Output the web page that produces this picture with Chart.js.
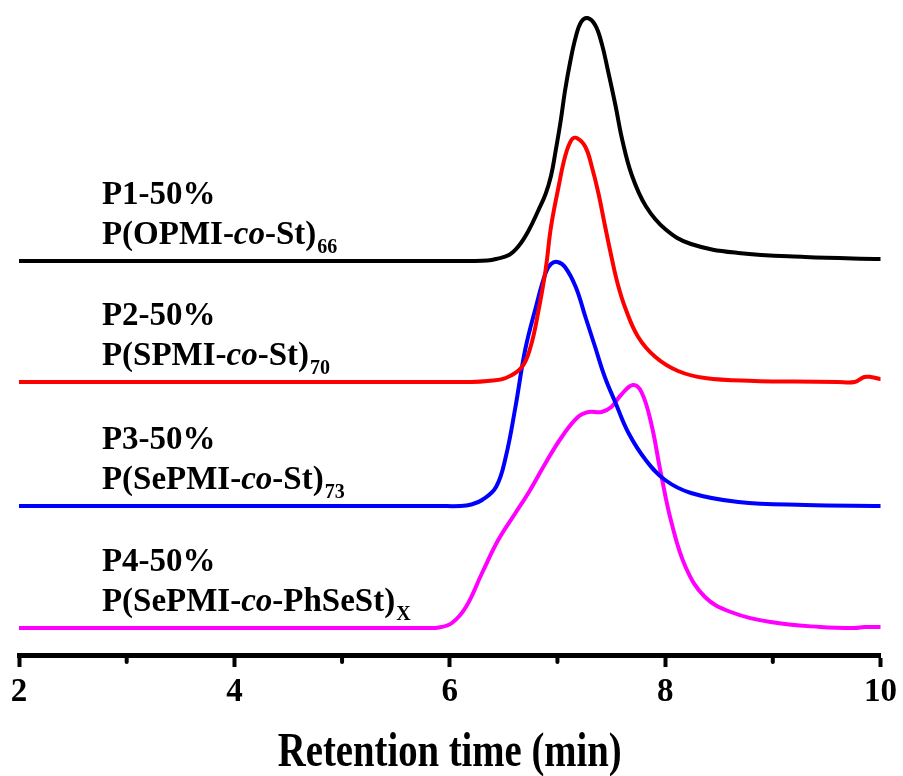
<!DOCTYPE html>
<html>
<head>
<meta charset="utf-8">
<script src="https://cdn.jsdelivr.net/npm/chart.js@4/dist/chart.umd.min.js"></script>
<style>
  html, body { margin: 0; padding: 0; background: #fff; }
  #wrap { width: 903px; height: 776px; position: relative; }
</style>
</head>
<body>
<div id="wrap"><canvas id="c"></canvas></div>
<script>
// ---- Data (retention time in min, detector signal above each trace's own baseline) ----
const xTicks = [2, 4, 6, 8, 10];
const minorTicks = [3, 5, 7, 9];
const xTitle = 'Retention time (min)';

const timeP1 = [2.0, 3.0, 4.0, 5.0, 5.6, 6.0, 6.2, 6.35, 6.43, 6.55, 6.64, 6.73, 6.82, 6.89, 6.94, 6.98, 7.03, 7.07, 7.12, 7.17, 7.22, 7.28, 7.35, 7.41, 7.47, 7.54, 7.60, 7.69, 7.82, 8.00, 8.24, 8.68, 9.30, 10.0];
const signalP1 = [0, 0, 0, 0, 0, 0, 0, 0.5, 2, 6, 15, 30, 50, 67, 85, 108, 140, 170, 200, 224, 239, 243, 236, 218, 190, 155, 122, 86, 55, 32, 17, 8, 4, 2];

const timeP2 = [2.0, 3.0, 4.0, 5.0, 5.6, 6.0, 6.2, 6.35, 6.52, 6.67, 6.75, 6.82, 6.89, 6.94, 7.01, 7.07, 7.13, 7.18, 7.26, 7.32, 7.38, 7.44, 7.50, 7.56, 7.63, 7.75, 7.91, 8.12, 8.37, 8.83, 9.20, 9.60, 9.76, 9.85, 9.91, 10.0];
const signalP2 = [0, 0, 0, 0, 0, 0, 0, 1, 4, 15, 35, 69, 112, 155, 195, 225, 242, 244, 235, 215, 189, 157, 126, 98, 74, 45, 25, 11, 4, 1, 0.5, 0, 0, 5, 5, 3];

const timeP3 = [2.0, 3.0, 4.0, 5.0, 5.6, 5.9, 6.1, 6.2, 6.30, 6.43, 6.52, 6.61, 6.70, 6.80, 6.89, 6.94, 7.00, 7.07, 7.17, 7.26, 7.35, 7.44, 7.54, 7.66, 7.82, 8.00, 8.24, 8.68, 9.30, 10.0];
const signalP3 = [0, 0, 0, 0, 0, 0, 0, 1.5, 6, 19, 49, 99, 156, 199, 233, 242, 244, 239, 219, 189, 159, 129, 103, 73, 46, 26, 13, 4, 1, 0];

const timeP4 = [2.0, 3.0, 4.0, 5.0, 5.5, 5.75, 5.90, 6.02, 6.15, 6.30, 6.45, 6.61, 6.73, 6.89, 7.04, 7.19, 7.29, 7.41, 7.50, 7.59, 7.70, 7.78, 7.87, 7.96, 8.06, 8.19, 8.37, 8.61, 8.98, 9.44, 9.76, 9.85, 10.0];
const signalP4 = [0, 0, 0, 0, 0, 0, 0.5, 5, 21, 55, 88, 115, 135, 165, 191, 211, 216, 216, 221, 233, 243, 236, 205, 155, 105, 61, 31, 16, 6, 1, 0, 1, 1];

// vertical offset (stacking) of each trace
const offsets = [394, 273, 149, 27];

// trace labels
const labelLine1 = ['P1-50%', 'P2-50%', 'P3-50%', 'P4-50%'];
const labelPre = ['P(OPMI-', 'P(SPMI-', 'P(SePMI-', 'P(SePMI-'];
const labelItalic = ['co', 'co', 'co', 'co'];
const labelPost = ['-St)', '-St)', '-St)', '-PhSeSt)'];
const labelSub = ['66', '70', '73', 'X'];

const colors = ['#000000', '#ff0000', '#0000ff', '#ff00ff'];
const times = [timeP1, timeP2, timeP3, timeP4];
const signals = [signalP1, signalP2, signalP3, signalP4];

const SERIF = "'Liberation Serif', 'Times New Roman', Times, serif";

const datasets = signals.map((sig, i) => ({
  label: labelLine1[i],
  data: sig.map((v, k) => ({ x: times[i][k], y: v + offsets[i] })),
  borderColor: colors[i],
  borderWidth: 4,
  pointRadius: 0,
  fill: false,
  tension: 0.4,
  borderCapStyle: 'round',
  borderJoinStyle: 'round'
}));

const labelPlugin = {
  id: 'traceLabels',
  afterDraw(chart) {
    const { ctx, scales: { x, y } } = chart;
    ctx.save();
    // minor ticks
    ctx.strokeStyle = '#000';
    ctx.lineWidth = 4;
    ctx.lineCap = 'round';
    minorTicks.forEach(v => {
      const px = x.getPixelForValue(v);
      ctx.beginPath();
      ctx.moveTo(px, y.bottom);
      ctx.lineTo(px, y.bottom + 7);
      ctx.stroke();
    });
    // trace labels
    const lx = x.getPixelForValue(2.77);
    ctx.fillStyle = '#000';
    ctx.textAlign = 'left';
    ctx.textBaseline = 'alphabetic';
    offsets.forEach((off, i) => {
      const base = y.getPixelForValue(off);
      const b1 = base - 57, b2 = base - 17;
      ctx.font = 'bold 33px ' + SERIF;
      ctx.fillText(labelLine1[i], lx, b1);
      let cx = lx;
      ctx.fillText(labelPre[i], cx, b2);
      cx += ctx.measureText(labelPre[i]).width;
      ctx.font = 'italic bold 33px ' + SERIF;
      ctx.fillText(labelItalic[i], cx, b2);
      cx += ctx.measureText(labelItalic[i]).width;
      ctx.font = 'bold 33px ' + SERIF;
      ctx.fillText(labelPost[i], cx, b2);
      cx += ctx.measureText(labelPost[i]).width;
      ctx.font = 'bold 20px ' + SERIF;
      ctx.fillText(labelSub[i], cx + 1, b2 + 9);
    });
    // x-axis title (condensed, as in the original)
    ctx.translate((x.left + x.right) / 2, x.bottom - 10);
    ctx.scale(0.79, 1);
    ctx.textAlign = 'center';
    ctx.font = 'bold 49px ' + SERIF;
    ctx.fillText(xTitle, 0, 0);
    ctx.restore();
  }
};

new Chart(document.getElementById('c'), {
  type: 'line',
  data: { datasets },
  plugins: [labelPlugin],
  options: {
    responsive: true,
    maintainAspectRatio: false,
    animation: false,
    layout: { padding: { left: 19, right: 20, top: 5, bottom: 0 } },
    plugins: { legend: { display: false }, tooltip: { enabled: false } },
    scales: {
      x: {
        type: 'linear',
        min: 2, max: 10,
        afterBuildTicks: (s) => { s.ticks = xTicks.map(v => ({ value: v })); },
        afterFit: (s) => { s.height = 121; },
        ticks: {
          color: '#000',
          padding: 6,
          font: { family: SERIF, size: 33, weight: 'bold' }
        },
        grid: { drawOnChartArea: false, tickLength: 12, tickWidth: 4, tickColor: '#000' },
        border: { color: '#000', width: 5 },
        title: { display: false, text: xTitle }
      },
      y: { display: false, min: 0, max: 650 }
    }
  }
});
</script>
</body>
</html>
